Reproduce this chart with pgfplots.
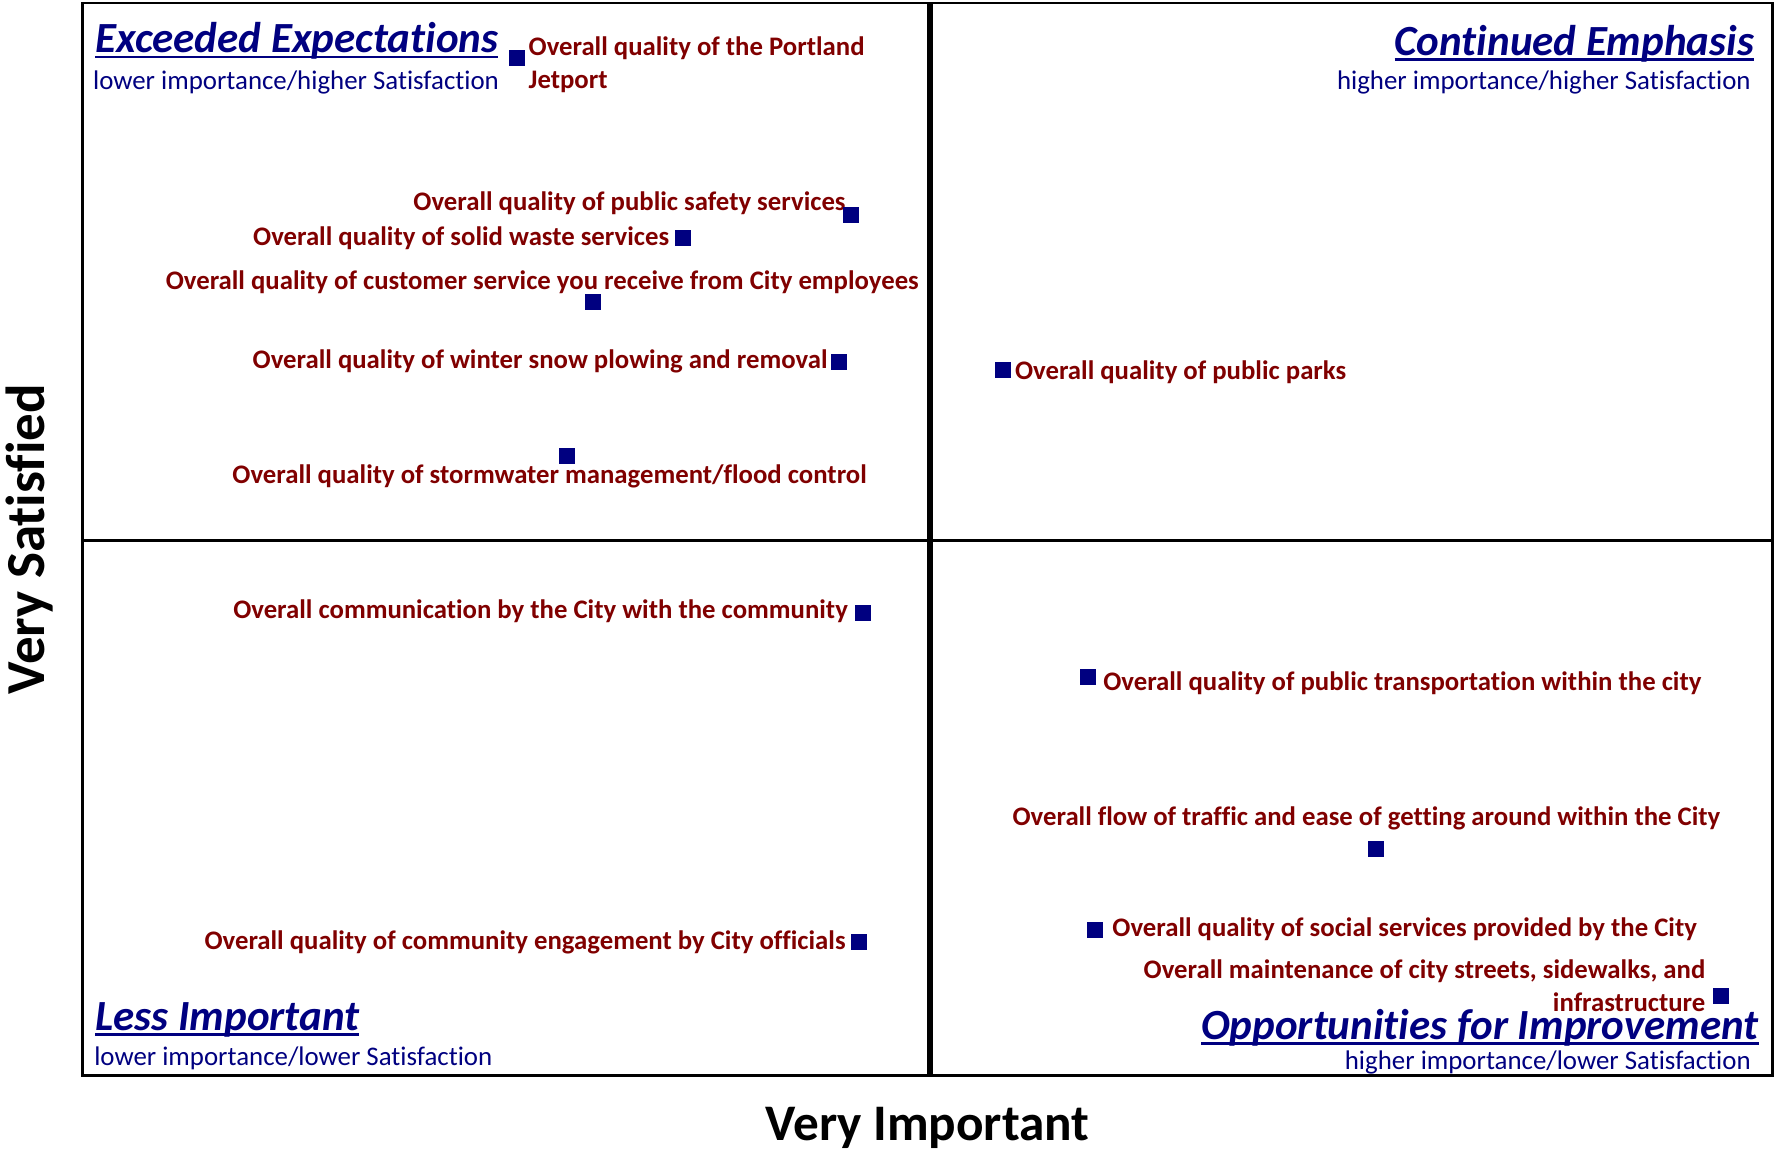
\documentclass[border=0pt]{standalone}
\usepackage{pgfplots}
\pgfplotsset{compat=1.18}
\usepackage{fontspec}
\setmainfont{Carlito}[Ligatures={NoCommon}]
\definecolor{navyb}{HTML}{000080}
\definecolor{lblred}{HTML}{800000}
\newcommand\ul[1]{\setbox0\hbox{#1}\rlap{\rule[-2.2pt]{\wd0}{1.1pt}}\box0}
\tikzset{
  lbl/.style={font=\fontsize{10.7}{13.3}\selectfont\bfseries, text=lblred, inner sep=0pt},
  ttl/.style={font=\fontsize{17.2}{20}\selectfont\bfseries\itshape, text=navyb, inner sep=0pt},
  sub/.style={font=\fontsize{10.75}{13}\selectfont, text=navyb, inner sep=0pt},
}
\pgfplotstableread{
x y
25.70 94.83
45.45 80.27
35.54 78.06
30.19 72.15
44.78 66.56
28.65 57.81
54.48 65.82
46.18 43.14
59.50 37.13
76.51 21.10
45.92 12.45
59.91 13.61
96.92 7.38
}\pts
\begin{document}
\begin{tikzpicture}
\begin{axis}[
  scale only axis, width=676pt, height=429pt,
  xmin=0, xmax=100, ymin=0, ymax=100,
  xtick=\empty, ytick=\empty,
  axis line style={line width=1.1pt},
  clip=false,
  xlabel={\fontsize{20.5}{24}\selectfont\bfseries Very Important},
  xlabel style={at={(axis description cs:0.5,0)}, anchor=base, yshift=-25.8pt, inner sep=0pt},
  ylabel={\fontsize{22}{26}\selectfont\bfseries Very Satisfied},
  ylabel style={at={(axis description cs:-0.0225,0.5)}, anchor=base, inner sep=0pt},
]
\path (axis description cs:-0.0488,0.5) -- ++(0,0.1pt);
\path (axis description cs:0.5,0) ++(0,-30pt) -- ++(0.1pt,0);
\addplot[black, line width=2.4pt] coordinates {(50.13,0) (50.13,100)};
\addplot[black, line width=1.1pt] coordinates {(0,49.9) (100,49.9)};
\addplot[only marks, mark=square*, mark size=3pt, color=navyb] table[x=x,y=y] {\pts};

\node[ttl, anchor=base west] at (rel axis cs:0.0074,0.9536) {\ul{Exceeded Expectations}};
\node[sub, anchor=base west] at (rel axis cs:0.0060,0.9198) {lower importance/higher Satisfaction};
\node[ttl, anchor=base east] at (rel axis cs:0.9893,0.9515) {\ul{Continued Emphasis}};
\node[sub, anchor=base east] at (rel axis cs:0.9873,0.9198) {higher importance/higher Satisfaction};
\node[ttl, anchor=base west] at (rel axis cs:0.0074,0.0422) {\ul{Less Important}};
\node[sub, anchor=base west] at (rel axis cs:0.0067,0.0095) {lower importance/lower Satisfaction};
\node[ttl, anchor=base east] at (rel axis cs:0.9920,0.0335) {\ul{Opportunities for Improvement}};
\node[sub, anchor=base east] at (rel axis cs:0.9873,0.0053) {higher importance/lower Satisfaction};

\node[lbl, anchor=west, align=left] at (axis cs:26.37,94.25) {Overall quality of the Portland\\Jetport};
\node[lbl, anchor=east] at (axis cs:45.18,81.33) {Overall quality of public safety services};
\node[lbl, anchor=east] at (axis cs:34.74,78.06) {Overall quality of solid waste services};
\node[lbl, anchor=center] at (axis cs:27.21,73.95) {Overall quality of customer service you receive from City employees};
\node[lbl, anchor=east] at (axis cs:44.11,66.56) {Overall quality of winter snow plowing and removal};
\node[lbl, anchor=center] at (axis cs:27.64,55.91) {Overall quality of stormwater management/flood control};
\node[lbl, anchor=west] at (axis cs:55.15,65.6) {Overall quality of public parks};
\node[lbl, anchor=east] at (axis cs:45.31,43.25) {Overall communication by the City with the community};
\node[lbl, anchor=west] at (axis cs:60.37,36.60) {Overall quality of public transportation within the city};
\node[lbl, anchor=center] at (axis cs:75.97,23.95) {Overall flow of traffic and ease of getting around within the City};
\node[lbl, anchor=east] at (axis cs:45.18,12.45) {Overall quality of community engagement by City officials};
\node[lbl, anchor=west] at (axis cs:60.91,13.61) {Overall quality of social services provided by the City};
\node[lbl, anchor=east, align=right] at (axis cs:96.05,8.4) {Overall maintenance of city streets, sidewalks, and\\infrastructure};
\end{axis}
\end{tikzpicture}
\end{document}
